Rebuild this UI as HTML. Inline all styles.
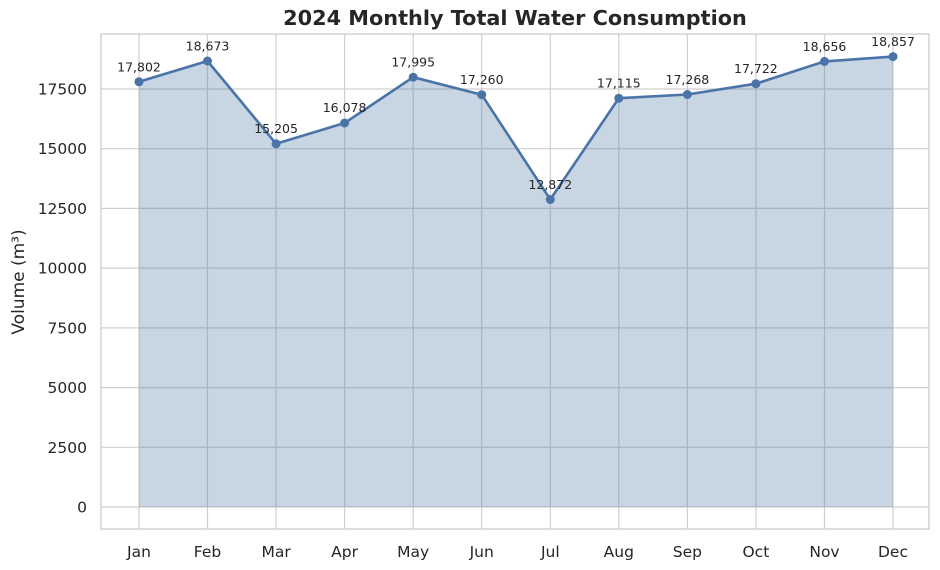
<!DOCTYPE html>
<html><head><meta charset="utf-8"><style>body{margin:0;background:#fff}svg{display:block}text{font-family:"DejaVu Sans","Liberation Sans",sans-serif;fill:#262626}</style></head>
<body>
<svg width="940" height="570" xmlns="http://www.w3.org/2000/svg">
<rect width="940" height="570" fill="#fff"/>
<g stroke="#cfcfcf" stroke-width="1.2">
<line x1="101" x2="929" y1="507" y2="507"/><line x1="101" x2="929" y1="447.3" y2="447.3"/><line x1="101" x2="929" y1="387.6" y2="387.6"/><line x1="101" x2="929" y1="327.9" y2="327.9"/><line x1="101" x2="929" y1="268.1" y2="268.1"/><line x1="101" x2="929" y1="208.4" y2="208.4"/><line x1="101" x2="929" y1="148.7" y2="148.7"/><line x1="101" x2="929" y1="89" y2="89"/>
<line y1="34" y2="529" x1="139" x2="139"/><line y1="34" y2="529" x1="207.5" x2="207.5"/><line y1="34" y2="529" x1="276.1" x2="276.1"/><line y1="34" y2="529" x1="344.6" x2="344.6"/><line y1="34" y2="529" x1="413.2" x2="413.2"/><line y1="34" y2="529" x1="481.7" x2="481.7"/><line y1="34" y2="529" x1="550.3" x2="550.3"/><line y1="34" y2="529" x1="618.8" x2="618.8"/><line y1="34" y2="529" x1="687.4" x2="687.4"/><line y1="34" y2="529" x1="755.9" x2="755.9"/><line y1="34" y2="529" x1="824.5" x2="824.5"/><line y1="34" y2="529" x1="893" x2="893"/>
</g>
<polygon fill="#48739e" fill-opacity="0.3" points="139,507 139,81.8 207.5,61 276.1,143.8 344.6,123 413.2,77.2 481.7,94.7 550.3,199.5 618.8,98.2 687.4,94.5 755.9,83.7 824.5,61.4 893,56.6 893,507"/>
<polyline fill="none" stroke="#4a74a8" stroke-width="2.6" points="139,81.8 207.5,61 276.1,143.8 344.6,123 413.2,77.2 481.7,94.7 550.3,199.5 618.8,98.2 687.4,94.5 755.9,83.7 824.5,61.4 893,56.6"/>
<g fill="#4a74a8"><circle cx="139" cy="81.8" r="4.5"/><circle cx="207.5" cy="61" r="4.5"/><circle cx="276.1" cy="143.8" r="4.5"/><circle cx="344.6" cy="123" r="4.5"/><circle cx="413.2" cy="77.2" r="4.5"/><circle cx="481.7" cy="94.7" r="4.5"/><circle cx="550.3" cy="199.5" r="4.5"/><circle cx="618.8" cy="98.2" r="4.5"/><circle cx="687.4" cy="94.5" r="4.5"/><circle cx="755.9" cy="83.7" r="4.5"/><circle cx="824.5" cy="61.4" r="4.5"/><circle cx="893" cy="56.6" r="4.5"/></g>
<rect x="101" y="34" width="828" height="495" fill="none" stroke="#cfcfcf" stroke-width="1.4"/>
<g font-size="12.5" text-anchor="middle">
<text x="139" y="71.5">17,802</text><text x="207.5" y="50.5">18,673</text><text x="276.1" y="133">15,205</text><text x="344.6" y="112">16,078</text><text x="413.2" y="66.5">17,995</text><text x="481.7" y="84">17,260</text><text x="550.3" y="189">12,872</text><text x="618.8" y="87.5">17,115</text><text x="687.4" y="84">17,268</text><text x="755.9" y="73">17,722</text><text x="824.5" y="51">18,656</text><text x="893" y="46">18,857</text>
</g>
<g font-size="15.5" text-anchor="end">
<text x="87" y="512.5">0</text><text x="87" y="452.8">2500</text><text x="87" y="393.1">5000</text><text x="87" y="333.4">7500</text><text x="87" y="273.6">10000</text><text x="87" y="213.9">12500</text><text x="87" y="154.2">15000</text><text x="87" y="94.5">17500</text>
</g>
<g font-size="15.5" text-anchor="middle">
<text x="139" y="557">Jan</text><text x="207.5" y="557">Feb</text><text x="276.1" y="557">Mar</text><text x="344.6" y="557">Apr</text><text x="413.2" y="557">May</text><text x="481.7" y="557">Jun</text><text x="550.3" y="557">Jul</text><text x="618.8" y="557">Aug</text><text x="687.4" y="557">Sep</text><text x="755.9" y="557">Oct</text><text x="824.5" y="557">Nov</text><text x="893" y="557">Dec</text>
</g>
<text x="24" y="282" font-size="17" text-anchor="middle" transform="rotate(-90 24 282)">Volume (m³)</text>
<text x="515" y="25" font-size="20.8" font-weight="bold" text-anchor="middle">2024 Monthly Total Water Consumption</text>
</svg>
</body></html>
